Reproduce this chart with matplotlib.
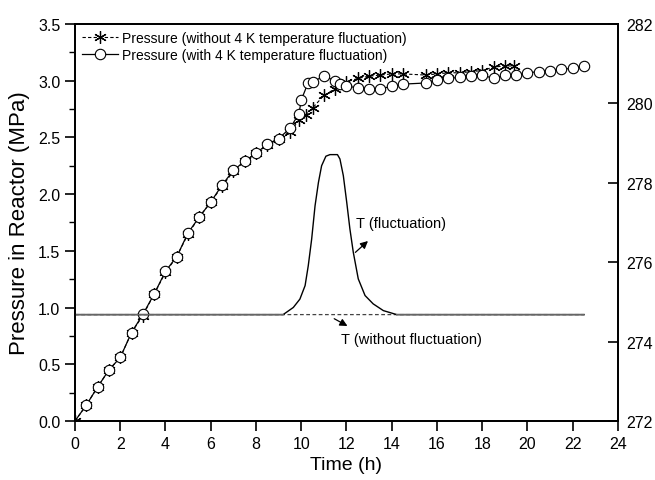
import matplotlib.pyplot as plt
from matplotlib.ticker import MultipleLocator

plt.rcParams['font.family'] = ['Liberation Sans', 'DejaVu Sans']

# -----------------------------
# Data
# -----------------------------
# pressure, with 4 K temperature fluctuation (circles)
t_with = [0, 0.5, 1, 1.5, 2, 2.5, 3, 3.5, 4, 4.5, 5, 5.5, 6, 6.5, 7, 7.5, 8, 8.5, 9, 9.5,
          9.9, 10.0, 10.3, 10.5, 11.0, 11.5, 11.7, 12.0, 12.5, 13.0, 13.5, 14.0, 14.5,
          15.5, 16.0, 16.5, 17.0, 17.5, 18.0, 18.5, 19.0, 19.5, 20.0, 20.5, 21.0, 21.5, 22.0, 22.5]
p_with = [0.0, 0.14, 0.30, 0.45, 0.56, 0.78, 0.94, 1.12, 1.32, 1.45, 1.66, 1.80, 1.93, 2.08, 2.21, 2.29,
          2.36, 2.44, 2.49, 2.58, 2.71, 2.83, 2.98, 2.99, 3.04, 3.00, 2.97, 2.95, 2.94, 2.93, 2.93,
          2.95, 2.97, 2.98, 3.01, 3.02, 3.03, 3.04, 3.05, 3.02, 3.05, 3.05, 3.07, 3.08, 3.09, 3.10, 3.11, 3.13]

# pressure, without temperature fluctuation (asterisks)
t_without = [0, 0.5, 1, 1.5, 2, 2.5, 3, 3.5, 4, 4.5, 5, 5.5, 6, 6.5, 7, 7.5, 8, 8.5, 9, 9.5,
             9.9, 10.2, 10.5, 11.0, 11.5, 12.0, 12.5, 13.0, 13.5, 14.0, 14.5,
             15.5, 16.0, 16.5, 17.0, 17.5, 18.0, 18.5, 19.0, 19.4]
p_without = [0.0, 0.14, 0.30, 0.45, 0.56, 0.78, 0.93, 1.12, 1.31, 1.45, 1.65, 1.80, 1.93, 2.07, 2.20, 2.29,
             2.36, 2.43, 2.49, 2.55, 2.65, 2.70, 2.76, 2.87, 2.93, 2.99, 3.02, 3.04, 3.05, 3.06, 3.06,
             3.05, 3.06, 3.07, 3.07, 3.08, 3.09, 3.12, 3.13, 3.13]

# reactor temperature (right axis, K)
t_T = [0, 9.2, 9.65, 9.94, 10.17, 10.31, 10.46, 10.61, 10.76, 10.9, 11.09, 11.27, 11.6, 11.71,
       11.86, 12.01, 12.15, 12.3, 12.52, 12.82, 13.18, 13.63, 14.22, 22.5]
T_fluct = [274.68, 274.68, 274.86, 275.07, 275.41, 275.91, 276.58, 277.42, 278.01, 278.43, 278.67,
           278.71, 278.71, 278.6, 278.18, 277.51, 276.84, 276.25, 275.58, 275.16, 274.95, 274.78,
           274.68, 274.68]
t_T0 = [0, 22.5]
T_const = [274.68, 274.68]

# -----------------------------
# Plot
# -----------------------------
fig = plt.figure(figsize=(6.55, 4.81), dpi=100)
ax = fig.add_axes([0.1145, 0.1227, 0.829, 0.8253])
ax2 = ax.twinx()

ax.plot(t_without, p_without, color='black', lw=0.8, ls=(0, (3, 2)),
        marker=(6, 2, 0), ms=9, mew=0.9, mec='black',
        label='Pressure (without 4 K temperature fluctuation)', zorder=3)
ax.plot(t_with, p_with, color='black', lw=0.9, ls='-',
        marker='o', ms=7.5, mfc='white', mec='black', mew=0.8,
        markevery=list(range(1, len(t_with))),
        label='Pressure (with 4 K temperature fluctuation)', zorder=4)

ax2.plot(t_T0, T_const, color='#444444', lw=0.9, ls=(0, (3, 2)), snap=False)
ax2.plot(t_T, T_fluct, color='black', lw=1.0, snap=False)
ax2.plot([t_T[0], t_T[1]], [T_fluct[0], T_fluct[1]], color='#666666', lw=1.0, snap=False)
ax2.plot([t_T[-2], t_T[-1]], [T_fluct[-2], T_fluct[-1]], color='#666666', lw=1.0, snap=False)

# annotations
ax2.annotate('', xy=(13.04, 276.58), xytext=(12.3, 276.2),
             arrowprops=dict(arrowstyle='-|>', color='black', lw=0.9, mutation_scale=11))
ax2.text(12.42, 276.99, 'T (fluctuation)', fontsize=10.5, va='center', ha='left')
ax2.annotate('', xy=(12.15, 274.36), xytext=(11.35, 274.61),
             arrowprops=dict(arrowstyle='-|>', color='black', lw=0.9, mutation_scale=11))
ax2.text(11.74, 274.07, 'T (without fluctuation)', fontsize=10.5, va='center', ha='left')

# axes
ax.set_xlim(0, 24)
ax.set_ylim(0, 3.5)
ax2.set_ylim(272, 282)
ax.xaxis.set_major_locator(MultipleLocator(2))
ax.yaxis.set_major_locator(MultipleLocator(0.5))
ax.yaxis.set_minor_locator(MultipleLocator(0.25))
ax2.yaxis.set_major_locator(MultipleLocator(2))
ax.yaxis.set_major_formatter(plt.FormatStrFormatter('%.1f'))

ax.tick_params(axis='x', direction='out', length=7, width=1.2, labelsize=11.5, top=False)
ax.tick_params(axis='y', which='major', direction='out', length=7, width=1.2, labelsize=11.5, right=False)
ax.tick_params(axis='y', which='minor', direction='out', length=4, width=1.0)
ax2.tick_params(axis='y', direction='in', length=7, width=1.2, labelsize=11.5, pad=6)

for a in (ax, ax2):
    for s in a.spines.values():
        s.set_linewidth(1.3)

ax.set_xlabel('Time (h)', fontsize=14)
ax.set_ylabel('Pressure in Reactor (MPa)', fontsize=16, labelpad=6)

ax.legend(loc='upper left', frameon=False, fontsize=10, handlelength=2.6,
          handletextpad=0.3, labelspacing=0.2, borderaxespad=0.1, bbox_to_anchor=(0.0, 1.0))

fig.savefig('out.png', dpi=100)
